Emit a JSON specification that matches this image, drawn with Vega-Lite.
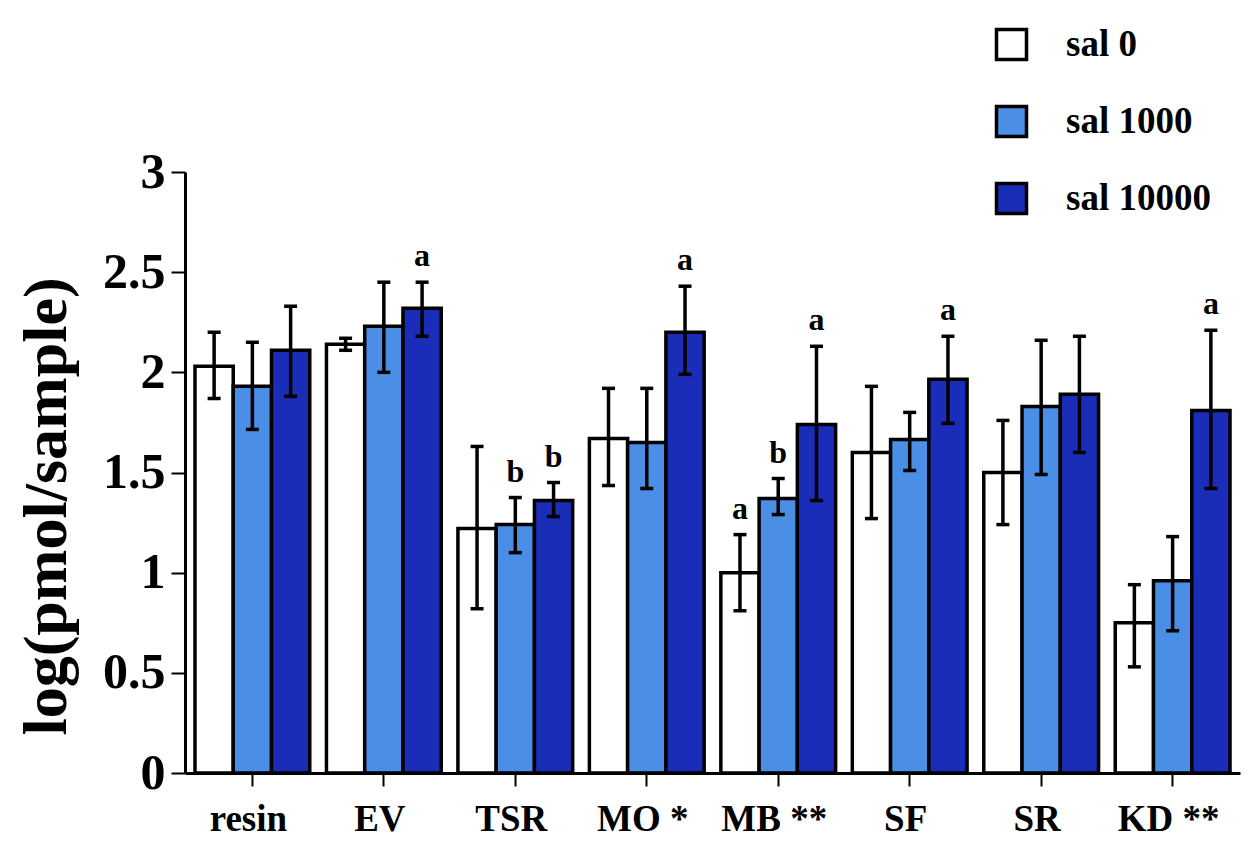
{
  "$schema": "https://vega.github.io/schema/vega-lite/v6.json",
  "width": 1055,
  "height": 601,
  "autosize": {"type": "none"},
  "padding": {"left": 185, "top": 172, "right": 14, "bottom": 83},
  "background": "white",
  "config": {"view": {"stroke": null}, "font": "Liberation Serif"},
  "data": {
    "values": [
      {"cat": "resin", "group": "sal 0", "value": 2.03, "lo": 1.87, "hi": 2.2, "sig": ""},
      {"cat": "resin", "group": "sal 1000", "value": 1.93, "lo": 1.715, "hi": 2.15, "sig": ""},
      {"cat": "resin", "group": "sal 10000", "value": 2.11, "lo": 1.88, "hi": 2.33, "sig": ""},
      {"cat": "EV", "group": "sal 0", "value": 2.14, "lo": 2.11, "hi": 2.17, "sig": ""},
      {"cat": "EV", "group": "sal 1000", "value": 2.23, "lo": 2.0, "hi": 2.45, "sig": ""},
      {"cat": "EV", "group": "sal 10000", "value": 2.32, "lo": 2.18, "hi": 2.45, "sig": "a"},
      {"cat": "TSR", "group": "sal 0", "value": 1.22, "lo": 0.82, "hi": 1.63, "sig": ""},
      {"cat": "TSR", "group": "sal 1000", "value": 1.24, "lo": 1.1, "hi": 1.375, "sig": "b"},
      {"cat": "TSR", "group": "sal 10000", "value": 1.36, "lo": 1.28, "hi": 1.45, "sig": "b"},
      {"cat": "MO", "group": "sal 0", "value": 1.67, "lo": 1.435, "hi": 1.92, "sig": ""},
      {"cat": "MO", "group": "sal 1000", "value": 1.65, "lo": 1.42, "hi": 1.92, "sig": ""},
      {"cat": "MO", "group": "sal 10000", "value": 2.2, "lo": 1.99, "hi": 2.43, "sig": "a"},
      {"cat": "MB", "group": "sal 0", "value": 1.0, "lo": 0.81, "hi": 1.19, "sig": "a"},
      {"cat": "MB", "group": "sal 1000", "value": 1.37, "lo": 1.29, "hi": 1.47, "sig": "b"},
      {"cat": "MB", "group": "sal 10000", "value": 1.74, "lo": 1.36, "hi": 2.13, "sig": "a"},
      {"cat": "SF", "group": "sal 0", "value": 1.6, "lo": 1.27, "hi": 1.93, "sig": ""},
      {"cat": "SF", "group": "sal 1000", "value": 1.665, "lo": 1.51, "hi": 1.8, "sig": ""},
      {"cat": "SF", "group": "sal 10000", "value": 1.965, "lo": 1.745, "hi": 2.18, "sig": "a"},
      {"cat": "SR", "group": "sal 0", "value": 1.5, "lo": 1.24, "hi": 1.76, "sig": ""},
      {"cat": "SR", "group": "sal 1000", "value": 1.83, "lo": 1.49, "hi": 2.16, "sig": ""},
      {"cat": "SR", "group": "sal 10000", "value": 1.89, "lo": 1.6, "hi": 2.18, "sig": ""},
      {"cat": "KD", "group": "sal 0", "value": 0.75, "lo": 0.53, "hi": 0.94, "sig": ""},
      {"cat": "KD", "group": "sal 1000", "value": 0.96, "lo": 0.71, "hi": 1.18, "sig": ""},
      {"cat": "KD", "group": "sal 10000", "value": 1.81, "lo": 1.42, "hi": 2.21, "sig": "a"}
    ]
  },
  "encoding": {
    "x": {
      "field": "cat",
      "type": "nominal",
      "sort": ["resin", "EV", "TSR", "MO", "MB", "SF", "SR", "KD"],
      "scale": {"paddingInner": 0.127, "paddingOuter": 0.076},
      "axis": {
        "title": null,
        "labelAngle": 0,
        "labelFont": "Liberation Serif",
        "labelFontSize": 37,
        "labelFontWeight": "bold",
        "labelColor": "black",
        "labelPadding": 15,
        "labelOffset": -4,
        "labelExpr": "datum.value == 'MO' ? 'MO *' : datum.value == 'MB' ? 'MB **' : datum.value == 'KD' ? 'KD **' : datum.value",
        "domainColor": "black",
        "domainWidth": 3,
        "tickColor": "black",
        "tickWidth": 2,
        "tickSize": 13
      }
    },
    "xOffset": {
      "field": "group",
      "type": "nominal",
      "sort": ["sal 0", "sal 1000", "sal 10000"],
      "scale": {"paddingInner": 0, "paddingOuter": 0}
    }
  },
  "layer": [
    {
      "mark": {"type": "bar", "stroke": "black", "strokeWidth": 3.5},
      "encoding": {
        "y": {
          "field": "value",
          "type": "quantitative",
          "scale": {"domain": [0, 3], "nice": false},
          "axis": {
            "title": "log(pmol/sample)",
            "titleFont": "Liberation Serif",
            "titleFontSize": 62,
            "titleFontWeight": "bold",
            "titleColor": "black",
            "titlePadding": 24,
            "titleY": 334,
            "labelFont": "Liberation Serif",
            "labelFontSize": 50,
            "labelFontWeight": "bold",
            "labelColor": "black",
            "labelPadding": 6,
            "values": [0, 0.5, 1, 1.5, 2, 2.5, 3],
            "format": ".1~f",
            "grid": false,
            "domainColor": "black",
            "domainWidth": 3,
            "tickColor": "black",
            "tickWidth": 2,
            "tickSize": 14
          }
        },
        "fill": {
          "field": "group",
          "type": "nominal",
          "sort": ["sal 0", "sal 1000", "sal 10000"],
          "scale": {"domain": ["sal 0", "sal 1000", "sal 10000"], "range": ["#ffffff", "#4a8ee6", "#1a2db8"]},
          "legend": {
            "title": null,
            "orient": "none",
            "legendX": 808,
            "legendY": -146,
            "padding": 0,
            "symbolType": "square",
            "symbolSize": 900,
            "symbolStrokeColor": "black",
            "symbolStrokeWidth": 3.5,
            "symbolOpacity": 1,
            "labelFont": "Liberation Serif",
            "labelFontSize": 37,
            "labelFontWeight": "bold",
            "labelColor": "black",
            "labelOffset": 36,
            "rowPadding": 32
          }
        }
      }
    },
    {
      "mark": {"type": "rule", "color": "black", "strokeWidth": 3.5},
      "encoding": {
        "y": {"field": "lo", "type": "quantitative", "title": "log(pmol/sample)"},
        "y2": {"field": "hi"}
      }
    },
    {
      "mark": {"type": "tick", "color": "black", "thickness": 3.5, "size": 13, "opacity": 1},
      "encoding": {
        "y": {"field": "lo", "type": "quantitative", "title": "log(pmol/sample)"}
      }
    },
    {
      "mark": {"type": "tick", "color": "black", "thickness": 3.5, "size": 13, "opacity": 1},
      "encoding": {
        "y": {"field": "hi", "type": "quantitative", "title": "log(pmol/sample)"}
      }
    },
    {
      "transform": [{"filter": "datum.sig != ''"}],
      "mark": {"type": "text", "dy": -9, "baseline": "bottom", "fontSize": 32, "fontWeight": "bold", "font": "Liberation Serif", "color": "black"},
      "encoding": {
        "y": {"field": "hi", "type": "quantitative", "title": "log(pmol/sample)"},
        "text": {"field": "sig"}
      }
    }
  ]
}
